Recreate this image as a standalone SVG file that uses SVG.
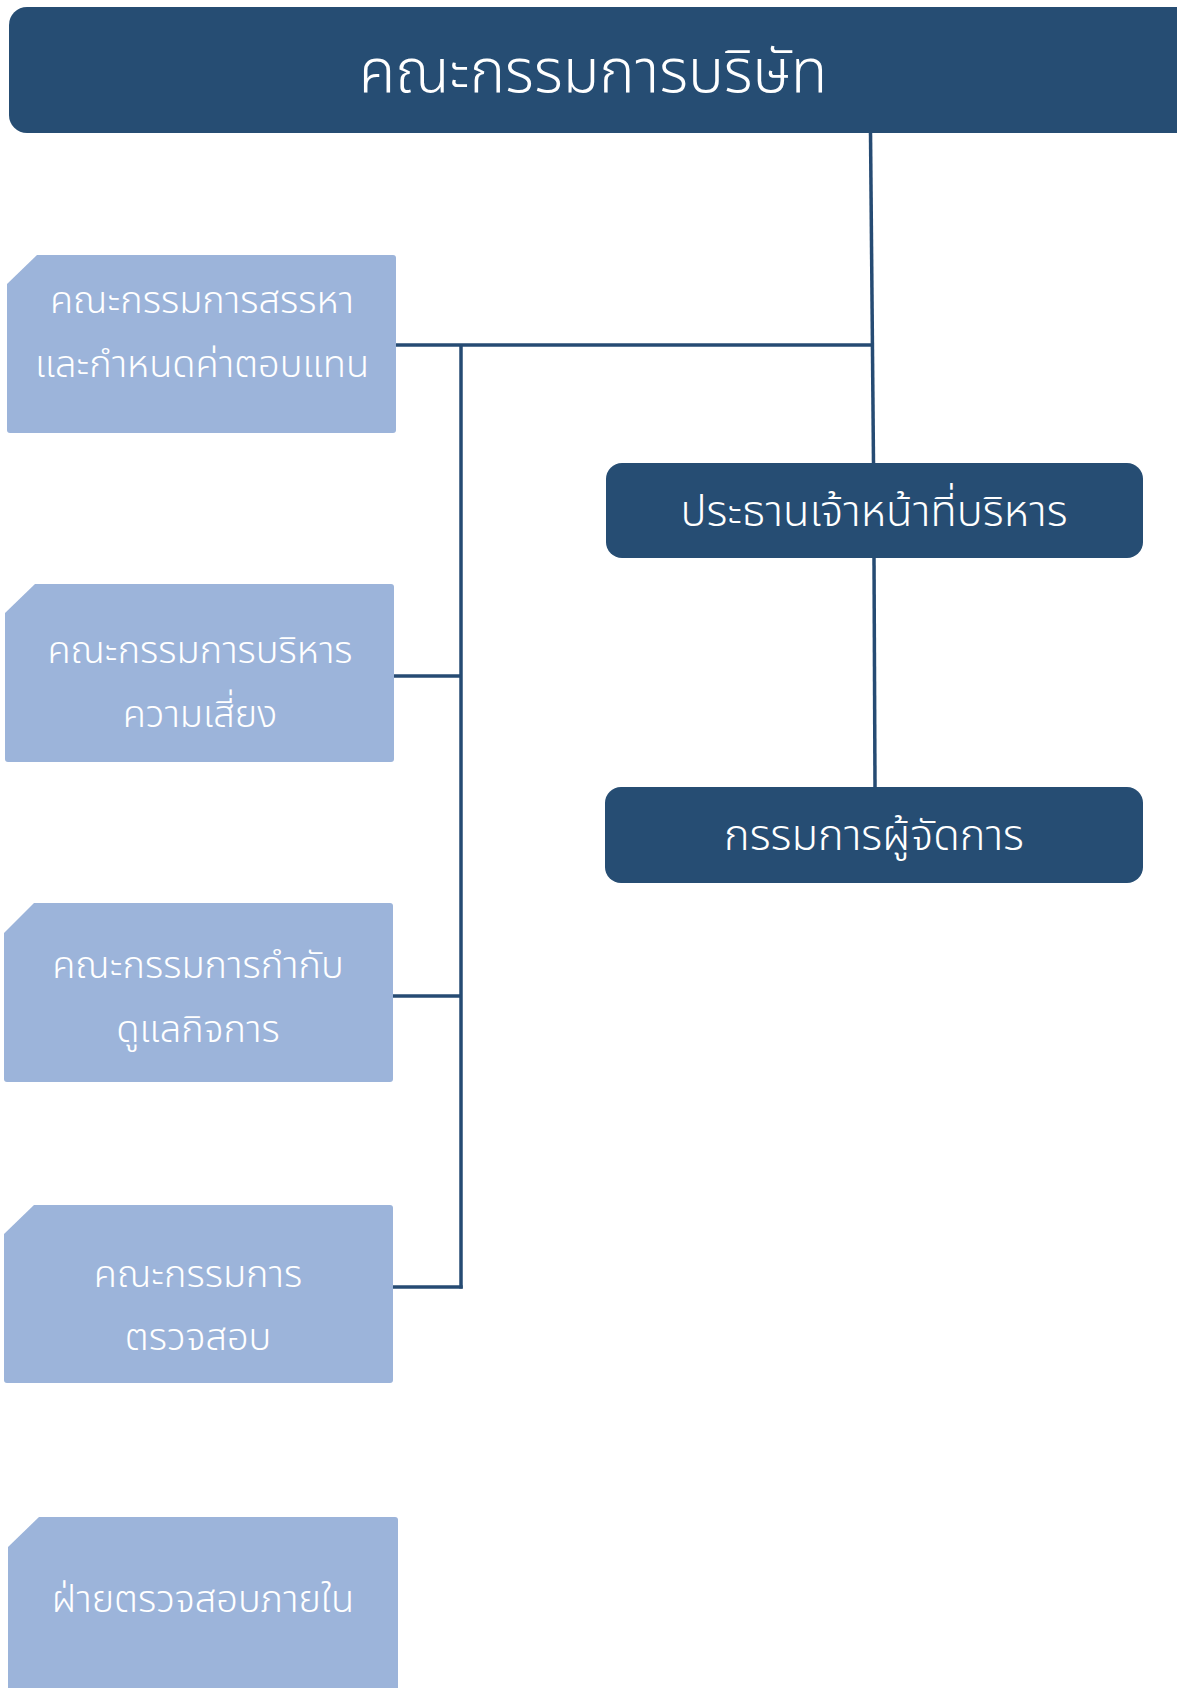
<svg xmlns="http://www.w3.org/2000/svg" width="1177" height="1688" viewBox="0 0 1177 1688">
<style>
.dark{fill:#264d73}
.light{fill:#9cb4da}
.t{font-family:'Noto Sans Thai','Noto Sans',sans-serif;font-weight:350;fill:#ffffff;text-anchor:middle}
.tb{font-size:38px}
.tm{font-size:43.5px}
.tt{font-size:60px}
.conn{stroke:#264b73;stroke-width:3.5;fill:none}
</style>
<rect width="1177" height="1688" fill="#ffffff"/>
<g id="connectors">
<line class="conn" x1="870.5" y1="132" x2="873.5" y2="463"/>
<line class="conn" x1="396" y1="345" x2="872" y2="345"/>
<line class="conn" x1="461" y1="345" x2="461" y2="1288.5"/>
<line class="conn" x1="394" y1="676" x2="461" y2="676"/>
<line class="conn" x1="393" y1="996" x2="461" y2="996"/>
<line class="conn" x1="393" y1="1287" x2="462.7" y2="1287"/>
<line class="conn" x1="874" y1="558" x2="875" y2="787"/>
</g>
<g id="board">
<rect class="dark" x="9" y="7" width="1185" height="126" rx="18"/>
<text class="t tt" x="593" y="92">คณะกรรมการบริษัท</text>
</g>
<g id="nomination">
<path class="light" d="M7 284 L37 255 H393 Q396 255 396 258 V430 Q396 433 393 433 H10 Q7 433 7 430 Z"/>
<text class="t tb" x="202" y="313">คณะกรรมการสรรหา</text>
<text class="t tb" x="202" y="377">และกำหนดค่าตอบแทน</text>
</g>
<g id="risk">
<path class="light" d="M5 613 L35 584 H391 Q394 584 394 587 V759 Q394 762 391 762 H8 Q5 762 5 759 Z"/>
<text class="t tb" x="200" y="663">คณะกรรมการบริหาร</text>
<text class="t tb" x="200" y="727">ความเสี่ยง</text>
</g>
<g id="governance">
<path class="light" d="M4 933 L34 903 H390 Q393 903 393 906 V1079 Q393 1082 390 1082 H7 Q4 1082 4 1079 Z"/>
<text class="t tb" x="198" y="978">คณะกรรมการกำกับ</text>
<text class="t tb" x="198" y="1042">ดูแลกิจการ</text>
</g>
<g id="audit">
<path class="light" d="M4 1234 L34 1205 H390 Q393 1205 393 1208 V1380 Q393 1383 390 1383 H7 Q4 1383 4 1380 Z"/>
<text class="t tb" x="198" y="1287">คณะกรรมการ</text>
<text class="t tb" x="198" y="1350">ตรวจสอบ</text>
</g>
<g id="internal-audit">
<path class="light" d="M8 1547 L39 1517 H395 Q398 1517 398 1520 V1688 H8 Z"/>
<text class="t tb" x="203" y="1612">ฝ่ายตรวจสอบภายใน</text>
</g>
<g id="ceo">
<rect class="dark" x="606" y="463" width="537" height="95" rx="16"/>
<text class="t tm" x="874" y="526">ประธานเจ้าหน้าที่บริหาร</text>
</g>
<g id="md">
<rect class="dark" x="605" y="787" width="538" height="96" rx="16"/>
<text class="t tm" x="874" y="850">กรรมการผู้จัดการ</text>
</g>
</svg>
